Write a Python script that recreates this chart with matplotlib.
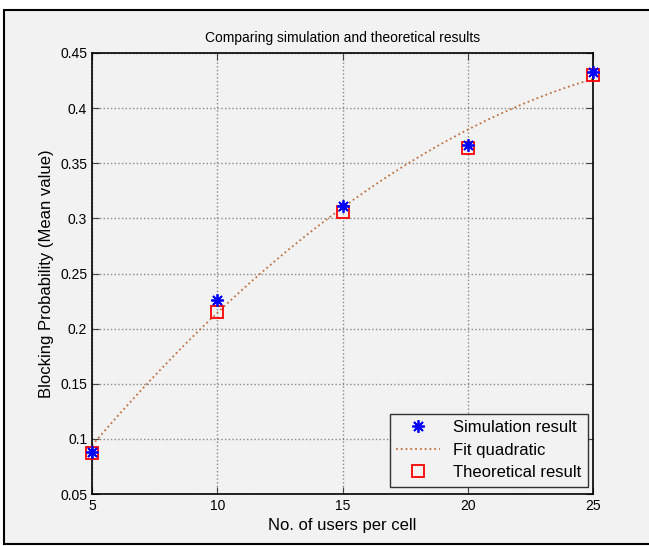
import numpy as np
from matplotlib import pyplot as plt
from matplotlib.patches import Rectangle
from matplotlib.ticker import FuncFormatter

# data
users = [5, 10, 15, 20, 25]
sim_result = [0.088, 0.226, 0.311, 0.367, 0.433]
theory_result = [0.087, 0.215, 0.306, 0.364, 0.430]

plt.rcParams['font.family'] = ['Liberation Sans', 'DejaVu Sans']

fig = plt.figure(figsize=(6.49, 5.46), dpi=100)
fig.patch.set_facecolor('white')
# grey panel with black frame like a matlab figure window
fig.patches.append(Rectangle((4 / 649, 2 / 546), 1.1, 1 - 12 / 546, transform=fig.transFigure,
                             facecolor='#f2f2f2', edgecolor='black', linewidth=1.5, zorder=-1))

ax = fig.add_axes([92 / 649, (546 - 494) / 546, (593 - 92) / 649, (494 - 53) / 546])
ax.set_facecolor('#f2f2f2')

ax.plot(users, sim_result, linestyle='none', marker=(8, 2, 0), color='blue',
        markersize=9, markeredgewidth=1.3, label='Simulation result', clip_on=False, zorder=4)

# quadratic fit of the simulation result
coef = np.polyfit(users, sim_result, 2)
xf = np.linspace(users[0], users[-1], 200)
ax.plot(xf, np.polyval(coef, xf), ':', color='#c0703f', linewidth=1.3, label='Fit quadratic')

ax.plot(users, theory_result, 's', markerfacecolor='none', markeredgecolor='red',
        markersize=8, markeredgewidth=1.3, label='Theoretical result', clip_on=False, zorder=3)

ax.set_xlim(5, 25)
ax.set_ylim(0.05, 0.45)
ax.set_xticks(users)
ax.set_yticks(np.arange(0.05, 0.451, 0.05))
ax.yaxis.set_major_formatter(FuncFormatter(lambda v, p: '%g' % round(v, 2)))
ax.tick_params(direction='in', top=True, right=True, labelsize=10, length=5, color='#444444')
ax.grid(True, linestyle=':', color='#888888', linewidth=1)
for s in ax.spines.values():
    s.set_linewidth(1.2)

ax.set_title('Comparing simulation and theoretical results', fontsize=10, pad=8)
ax.set_xlabel('No. of users per cell', fontsize=12)
ax.set_ylabel('Blocking Probability (Mean value)', fontsize=12)

leg = ax.legend(loc='lower right', fontsize=12, fancybox=False, framealpha=1,
                facecolor='#f2f2f2', edgecolor='#333333', handlelength=2.6,
                borderpad=0.4, labelspacing=0.45, borderaxespad=0,
                bbox_to_anchor=(0.99, 0.016))
leg.get_frame().set_linewidth(1)

fig.savefig('out.png', dpi=100, facecolor=fig.get_facecolor())
